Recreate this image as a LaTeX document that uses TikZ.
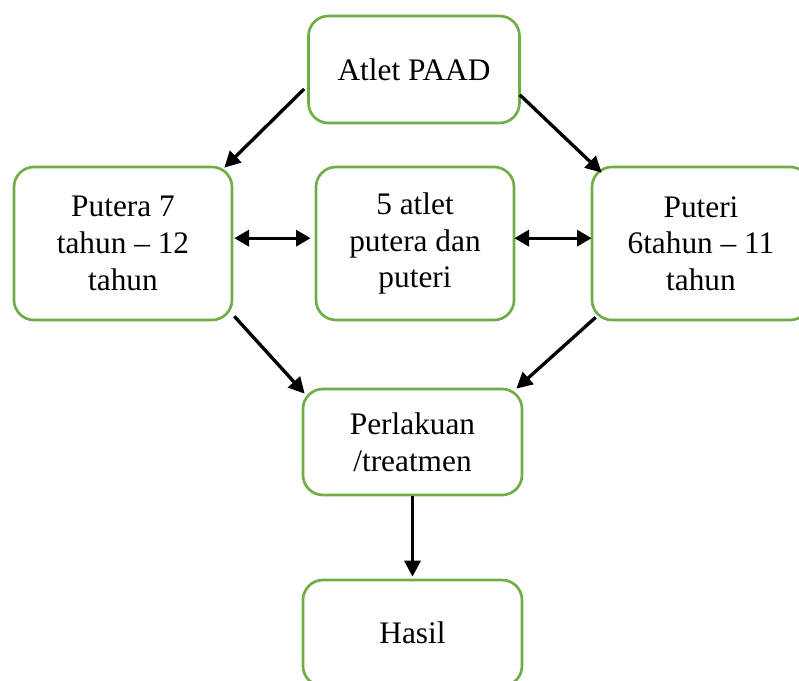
\documentclass[tikz,border=0pt]{standalone}
\usepackage{fontspec}
\setmainfont{Liberation Serif}
\usetikzlibrary{arrows.meta}
\definecolor{boxgreen}{HTML}{70AD47}

\begin{document}
\begin{tikzpicture}[x=0.75pt,y=-0.75pt,
  box/.style={draw=boxgreen,line width=2pt,rounded corners=15pt,fill=white,align=center,
    inner sep=0pt,font=\fontsize{23.5}{27.5}\selectfont},
  arr/.style={line width=2.5pt,-{Triangle[length=12pt,width=12pt]}},
  twoway/.style={line width=2.5pt,{Triangle[length=11pt,width=12pt]}-{Triangle[length=11pt,width=12pt]}}]
\useasboundingbox (0,0) rectangle (799,681);
\node [box,minimum width=158.25pt,minimum height=80.25pt] (atlet) at (414,69.5) {Atlet PAAD};
\node [box,minimum width=163.5pt,minimum height=114.75pt] (putera) at (123,243.5) {Putera 7\\tahun -- 12\\tahun};
\node [box,minimum width=148.5pt,minimum height=114.75pt] (lima) at (415,243.5) {5 atlet\\putera dan\\puteri};
\node [box,minimum width=163.5pt,minimum height=114.75pt] (puteri) at (701,243.5) {Puteri\\6tahun -- 11\\tahun};
\node [box,minimum width=164.25pt,minimum height=79.5pt] (perlakuan) at (412.5,442) {Perlakuan\\/treatmen};
\node [box,minimum width=164.25pt,minimum height=79.5pt] (hasil) at (412.5,633) {Hasil};
\draw [arr] ([xshift=-2.25pt,yshift=-14.6pt]atlet.west) -- ([xshift=-6.75pt,yshift=-1.5pt]putera.north east);
\draw [arr] ([xshift=-0.75pt,yshift=-19pt]atlet.east) -- ([xshift=8.25pt,yshift=-5.25pt]puteri.north west);
\draw [twoway] ([xshift=0.75pt,yshift=4pt]putera.east) -- ([xshift=-3pt,yshift=4pt]lima.west);
\draw [twoway] ([xshift=-0.75pt,yshift=4pt]lima.east) -- ([xshift=0.75pt,yshift=4pt]puteri.west);
\draw [arr] ([xshift=0.75pt,yshift=3.75pt]putera.south east) -- ([xshift=2.25pt,yshift=-4.5pt]perlakuan.north west);
\draw [arr] ([xshift=3.75pt,yshift=3pt]puteri.south west) -- ([xshift=-5.25pt,yshift=-0.75pt]perlakuan.north east);
\draw [arr] (perlakuan.south) -- ([yshift=1.5pt]hasil.north);
\end{tikzpicture}
\end{document}
